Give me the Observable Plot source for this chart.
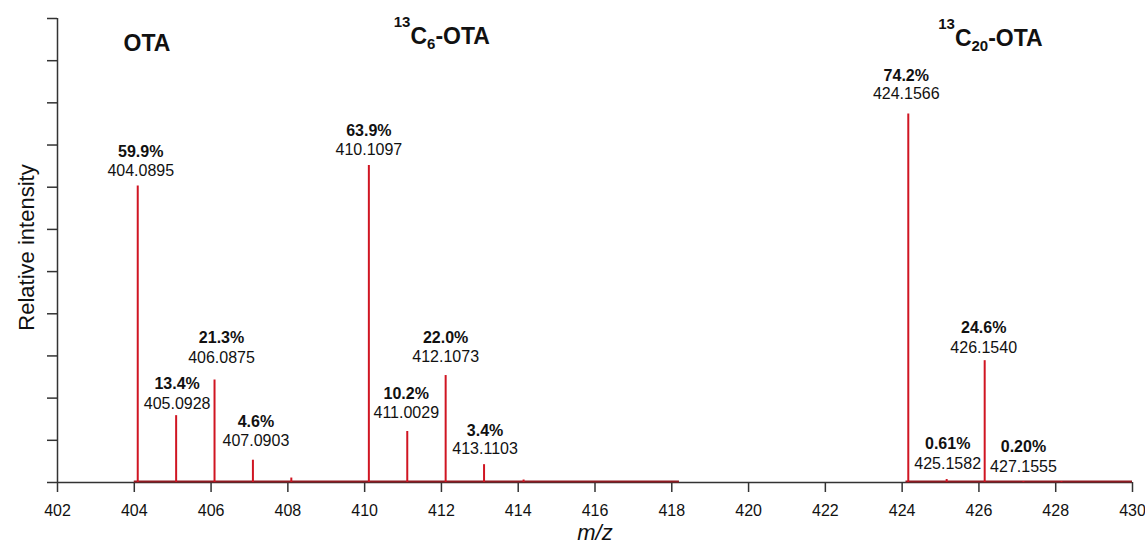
<!DOCTYPE html>
<html><head><meta charset="utf-8">
<script src="https://cdn.jsdelivr.net/npm/d3@7"></script>
<script src="https://cdn.jsdelivr.net/npm/@observablehq/plot@0.6"></script>
<style>html,body{margin:0;padding:0;background:#fff;}</style>
</head><body><div id="chart"></div>
<script>
// ---- data ----
const peakMz = [404.09, 405.09, 406.09, 407.09, 408.09, 410.11, 411.11, 412.11, 413.11, 414.14, 424.16, 425.16, 426.15, 427.16, 428.15];
const peakIntensity = [59.9, 13.5, 20.7, 4.5, 0.9, 64.0, 10.3, 21.6, 3.6, 0.5, 74.4, 0.6, 24.6, 0.2, 0.2];

const labelMz = [404.09, 405.09, 406.09, 407.09, 410.11, 411.11, 412.11, 413.11, 424.16, 425.16, 426.15, 427.16];
const labelIntensity = [59.9, 13.5, 20.7, 4.5, 64.0, 10.3, 21.6, 3.6, 74.4, 0.6, 24.6, 0.2];
const labelPercent = ["59.9%", "13.4%", "21.3%", "4.6%", "63.9%", "10.2%", "22.0%", "3.4%", "74.2%", "0.61%", "24.6%", "0.20%"];
const labelMass = ["404.0895", "405.0928", "406.0875", "407.0903", "410.1097", "411.0029", "412.1073", "413.1103", "424.1566", "425.1582", "426.1540", "427.1555"];

const baselineStart = [404.0, 424.1];
const baselineEnd = [418.2, 430.0];

const groupNames = ["OTA", "13C6-OTA", "13C20-OTA"];
const groupCenterMz = [404.33, 412.01, 426.3];

const xTicks = [402, 404, 406, 408, 410, 412, 414, 416, 418, 420, 422, 424, 426, 428, 430];
const yTicks = [0, 8.52, 17.04, 25.56, 34.07, 42.59, 51.11, 59.63, 68.15, 76.67, 85.18, 93.7];
const yTop = 93.7;

// ---- layout (pixel offsets, not data) ----
const labelDx = [3, 1, 7, 3, 0, -1, 0, 1, -2, 1, -1, 0];
const pctDy = [-34, -32, -42, -38, -35, -38, -38, -34, -38, -36, -33, -35];
const massDy = [-15, -12, -22, -19, -16, -19, -19, -16, -20, -16, -13, -15];
const titleDy = [32, 25.5, 27];

const peaks = peakMz.map((mz, i) => ({mz, intensity: peakIntensity[i]}));
const baseline = baselineStart.map((s, i) => ({start: s, end: baselineEnd[i]}));

const font = "'Liberation Sans', Arial, Helvetica, sans-serif";
const ink = "#111";
const axisInk = "#333";

const labelMarks = [];
labelMz.forEach((mz, i) => {
  const d = [{mz, y: labelIntensity[i]}];
  labelMarks.push(Plot.text(d, {x: "mz", y: "y", text: () => labelPercent[i], dx: labelDx[i], dy: pctDy[i],
    fontWeight: "bold", fontSize: 16, fill: ink, lineAnchor: "middle"}));
  labelMarks.push(Plot.text(d, {x: "mz", y: "y", text: () => labelMass[i], dx: labelDx[i], dy: massDy[i],
    fontSize: 16, fill: ink, lineAnchor: "middle"}));
});

const titleMarks = groupNames.map((name, i) =>
  Plot.text([name], {x: () => groupCenterMz[i], frameAnchor: "top", text: d => d, dy: titleDy[i],
    fontWeight: "bold", fontSize: 23, fill: ink, lineAnchor: "bottom", textAnchor: "middle"}));

const chart = Plot.plot({
  width: 1145,
  height: 545,
  marginLeft: 57,
  marginRight: 13,
  marginTop: 18,
  marginBottom: 63,
  style: {fontFamily: font, fontSize: "15px", color: axisInk, background: "#fff", overflow: "visible"},
  x: {domain: [402, 430], label: null},
  y: {domain: [0, yTop], label: null},
  marks: [
    Plot.axisX({ticks: xTicks, tickSize: 10, tickPadding: 12, label: null, stroke: axisInk, strokeWidth: 1.5,
      fill: ink, fontSize: 16, tickFormat: d => String(d)}),
    Plot.axisY({ticks: yTicks, tickSize: 10, label: null, stroke: axisInk, strokeWidth: 1.5, tickFormat: () => ""}),
    Plot.ruleX([402], {y1: 0, y2: yTop, stroke: axisInk, strokeWidth: 1.5}),
    Plot.ruleY([0], {stroke: axisInk, strokeWidth: 1.5}),
    Plot.ruleY(baseline, {x1: "start", x2: "end", y: 0, stroke: "#8e1b22", strokeWidth: 2, dy: -1}),
    Plot.ruleX(peaks, {x: "mz", y1: 0, y2: "intensity", stroke: "#d01522", strokeWidth: 2}),
    ...labelMarks,
    ...titleMarks,
    Plot.text(["Relative intensity"], {frameAnchor: "left", text: d => d, rotate: -90, dx: -31, dy: -3,
      fontSize: 22, fill: ink, lineAnchor: "middle", textAnchor: "middle"}),
    Plot.text(["m/z"], {frameAnchor: "bottom", text: d => d, dy: 57.5, fontSize: 22, fontStyle: "italic",
      fill: ink, lineAnchor: "bottom", textAnchor: "middle"})
  ]
});

// superscript / subscript isotope notation in titles
d3.select(chart).selectAll("text").each(function() {
  const t = this.textContent;
  const m = /^(\d+)C(\d+)(-.*)$/.exec(t);
  if (!m) return;
  const sel = d3.select(this);
  sel.text(null);
  sel.append("tspan").attr("font-size", 15).attr("dy", -17).text(m[1]);
  sel.append("tspan").attr("dy", 17).text("C");
  sel.append("tspan").attr("font-size", 15).attr("dy", 5).text(m[2]);
  sel.append("tspan").attr("dy", -5).text(m[3]);
});

document.getElementById("chart").appendChild(chart);
</script>
</body></html>
